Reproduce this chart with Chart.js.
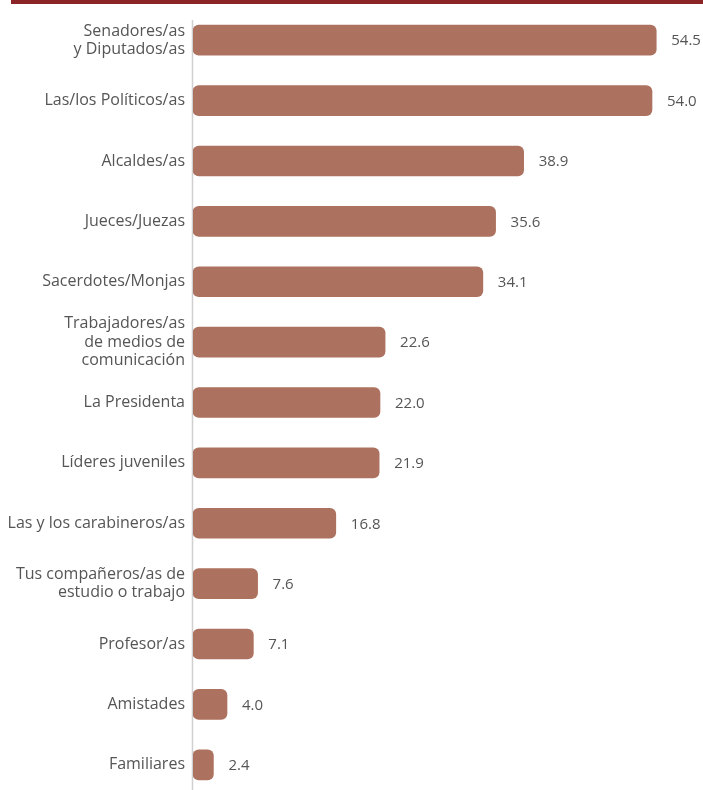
<!DOCTYPE html>
<html lang="es">
<head>
<meta charset="utf-8">
<script src="https://cdn.jsdelivr.net/npm/chart.js@4.4.1/dist/chart.umd.min.js"></script>
<style>
  html, body {
    margin: 0;
    padding: 0;
    background: #ffffff;
    overflow: hidden;
    width: 703px;
    height: 790px;
  }
  .top-band {
    position: absolute;
    left: 11px;
    top: 0;
    width: 692px;
    height: 4px;
    background: #8b2427;
  }
  #confianzaChart {
    position: absolute;
    left: 0;
    top: 0;
  }
</style>
</head>
<body>
<div class="top-band"></div>
<canvas id="confianzaChart" width="703" height="800"></canvas>
<script>
// Categories (multi-line labels as arrays)
const labels = [
  ["Senadores/as", "y Diputados/as"],
  "Las/los Políticos/as",
  "Alcaldes/as",
  "Jueces/Juezas",
  "Sacerdotes/Monjas",
  ["Trabajadores/as", "de medios de", "comunicación"],
  "La Presidenta",
  "Líderes juveniles",
  "Las y los carabineros/as",
  ["Tus compañeros/as de", "estudio o trabajo"],
  "Profesor/as",
  "Amistades",
  "Familiares",
];

// Percent values
const values = [54.5, 54.0, 38.9, 35.6, 34.1, 22.6, 22.0, 21.9, 16.8, 7.6, 7.1, 4.0, 2.4];

const barColor = "#ad725f";
const textColor = "#555555";
const fontFamily = "'Open Sans', 'Noto Sans', sans-serif";

// Vertical axis line, starting a bit below the top band
const axisLine = {
  id: "axisLine",
  beforeDatasetsDraw(chart) {
    const { ctx, chartArea } = chart;
    ctx.save();
    ctx.strokeStyle = "#d0d0d0";
    ctx.lineWidth = 1.5;
    ctx.beginPath();
    ctx.moveTo(chartArea.left - 0.5, 20);
    ctx.lineTo(chartArea.left - 0.5, chart.height);
    ctx.stroke();
    ctx.restore();
  },
};

// Value labels at the end of each bar
const valueLabels = {
  id: "valueLabels",
  afterDatasetsDraw(chart) {
    const { ctx } = chart;
    const meta = chart.getDatasetMeta(0);
    ctx.save();
    ctx.font = `15px ${fontFamily}`;
    ctx.fillStyle = textColor;
    ctx.textAlign = "left";
    ctx.textBaseline = "middle";
    meta.data.forEach((bar, i) => {
      ctx.fillText(values[i].toFixed(1), bar.x + 15, bar.y + 1);
    });
    ctx.restore();
  },
};

const ctx = document.getElementById("confianzaChart").getContext("2d");

new Chart(ctx, {
  type: "bar",
  data: {
    labels,
    datasets: [
      {
        data: values,
        backgroundColor: barColor,
        hoverBackgroundColor: barColor,
        borderWidth: 0,
        barThickness: 30,
        borderRadius: 6,
        borderSkipped: false,
      },
    ],
  },
  options: {
    indexAxis: "y",
    responsive: false,
    devicePixelRatio: 1,
    animation: false,
    layout: {
      padding: { top: 10, right: 0, bottom: 5, left: 0 },
    },
    plugins: {
      legend: { display: false },
      tooltip: { enabled: false },
    },
    scales: {
      x: {
        display: false,
        min: 0,
        max: 60,
      },
      y: {
        // fixed label column; no extra room for first/last labels
        afterFit: (scale) => {
          scale.width = 193;
          scale.paddingTop = 0;
          scale.paddingBottom = 0;
        },
        grid: { display: false, drawTicks: false },
        border: { display: false },
        ticks: {
          padding: 8,
          color: textColor,
          font: { family: fontFamily, size: 16, lineHeight: 1.15 },
        },
      },
    },
  },
  plugins: [axisLine, valueLabels],
});
</script>
</body>
</html>
